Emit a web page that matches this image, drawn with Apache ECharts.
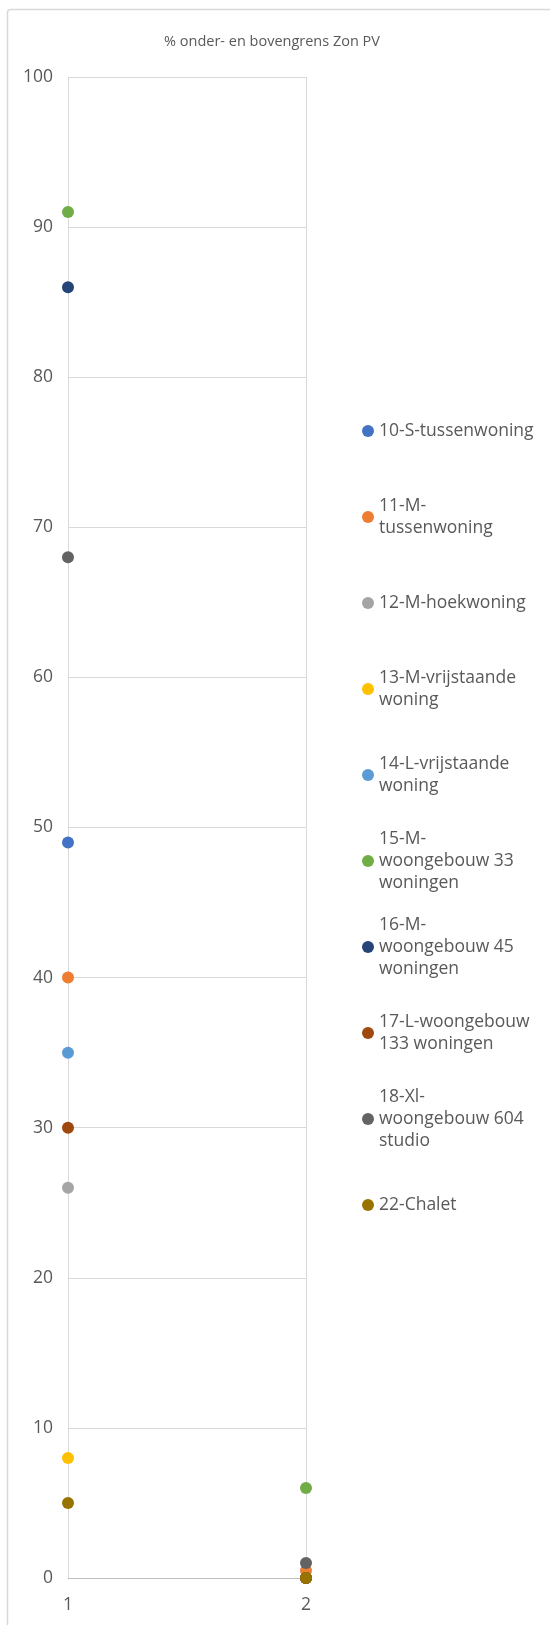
<!DOCTYPE html>
<html>
<head>
<meta charset="utf-8">
<script src="https://cdn.jsdelivr.net/npm/echarts@6/dist/echarts.min.js"></script>
<style>
  html, body { margin: 0; padding: 0; background: #fff; }
  #chart { width: 550px; height: 1625px; }
</style>
</head>
<body>
<div id="chart"></div>
<script>
// categories on the x axis
const categories = ['1', '2'];

// series names and their values at category 1 and 2
const seriesNames = [
  '10-S-tussenwoning',
  '11-M-tussenwoning',
  '12-M-hoekwoning',
  '13-M-vrijstaande woning',
  '14-L-vrijstaande woning',
  '15-M-woongebouw 33 woningen',
  '16-M-woongebouw 45 woningen',
  '17-L-woongebouw 133 woningen',
  '18-Xl-woongebouw 604 studio',
  '22-Chalet'
];
const legendLabels = [
  '10-S-tussenwoning',
  '11-M-\ntussenwoning',
  '12-M-hoekwoning',
  '13-M-vrijstaande\nwoning',
  '14-L-vrijstaande\nwoning',
  '15-M-\nwoongebouw 33\nwoningen',
  '16-M-\nwoongebouw 45\nwoningen',
  '17-L-woongebouw\n133 woningen',
  '18-Xl-\nwoongebouw 604\nstudio',
  '22-Chalet'
];
const s10 = [49, 0];
const s11 = [40, 0.5];
const s12 = [26, 0];
const s13 = [8, 0];
const s14 = [35, 0];
const s15 = [91, 6];
const s16 = [86, 0];
const s17 = [30, 0];
const s18 = [68, 1];
const s22 = [5, 0];
const seriesValues = [s10, s11, s12, s13, s14, s15, s16, s17, s18, s22];

const colors = ['#4472C4', '#ED7D31', '#A5A5A5', '#FFC000', '#5B9BD5',
                '#70AD47', '#264478', '#9E480E', '#636363', '#997300'];

const font = 'Open Sans';
const textColor = '#595959';
const lineH = 22;

const chart = echarts.init(document.getElementById('chart'));

// one legend per series so every entry sits at the same spacing
const legends = seriesNames.map((name, i) => {
  const lines = legendLabels[i].split('\n').length;
  const boxH = (2 * lines - 1) * lineH;
  const iconY = 431 + 86 * i;
  return {
    data: [name],
    orient: 'vertical',
    left: 362,
    top: iconY - boxH / 2,
    padding: 0,
    icon: 'circle',
    itemWidth: 12,
    itemHeight: 12,
    selectedMode: false,
    formatter: () => legendLabels[i],
    textStyle: {
      fontFamily: font,
      fontSize: 17.5,
      color: textColor,
      lineHeight: lineH,
      padding: [(lines - 1) * lineH, 0, 0, 0]
    }
  };
});

const option = {
  backgroundColor: '#fff',
  animation: false,
  color: colors,
  title: {
    text: '% onder- en bovengrens Zon PV',
    left: 267,
    textAlign: 'center',
    top: 29,
    textStyle: { fontFamily: font, fontSize: 14.5, fontWeight: 'normal', color: textColor }
  },
  graphic: [{
    type: 'rect',
    shape: { x: 7.5, y: 9.5, width: 700, height: 1800, r: 3 },
    style: { fill: 'none', stroke: '#d9d9d9', lineWidth: 1.5 },
    silent: true
  }],
  legend: legends,
  grid: { left: 68, right: 244, top: 77, bottom: 47, containLabel: false },
  xAxis: {
    type: 'category',
    data: categories,
    boundaryGap: false,
    axisLine: { show: true, lineStyle: { color: '#bfbfbf', width: 1 } },
    axisTick: { show: false },
    splitLine: { show: true, lineStyle: { color: '#d9d9d9', width: 1 } },
    axisLabel: { fontFamily: font, fontSize: 17.5, color: textColor, margin: 18 }
  },
  yAxis: {
    type: 'value',
    min: 0,
    max: 100,
    interval: 10,
    axisLine: { show: false },
    axisTick: { show: false },
    splitLine: { show: true, lineStyle: { color: '#d9d9d9', width: 1 } },
    axisLabel: { fontFamily: font, fontSize: 17.5, color: textColor, margin: 15 }
  },
  series: seriesNames.map((name, i) => ({
    name: name,
    type: 'scatter',
    symbol: 'circle',
    symbolSize: 12,
    data: seriesValues[i],
    itemStyle: { color: colors[i], opacity: 1 }
  }))
};

chart.setOption(option);
</script>
</body>
</html>
